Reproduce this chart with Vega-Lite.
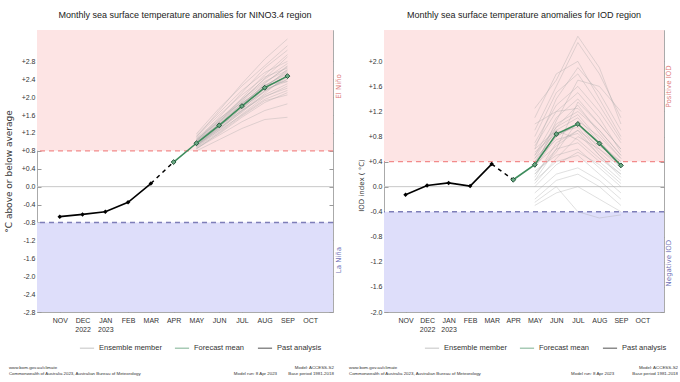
{
  "$schema": "https://vega.github.io/schema/vega-lite/v6.json",
  "background": "white",
  "autosize": {"type": "pad"},
  "padding": {"left": 3, "top": 10, "right": 0, "bottom": 0},
  "bounds": "flush",
  "align": "each",
  "columns": 2,
  "spacing": {"row": 51, "column": 51},
  "config": {
    "view": {"stroke": "#aaaaaa", "strokeWidth": 1},
    "font": "Liberation Sans",
    "axis": {"grid": false, "domain": false, "tickColor": "#999999", "tickSize": -4, "labelFont": "Liberation Sans", "labelFontSize": 7, "labelColor": "#333333", "titleFont": "DejaVu Sans", "titleFontWeight": "normal", "titleFontSize": 9, "titleColor": "#333333"},
    "title": {"font": "Liberation Sans", "fontSize": 9, "fontWeight": "normal", "color": "#222222", "offset": 10},
    "text": {"font": "Liberation Sans"}
  },
  "datasets": {
    "blank": [{}],
    "ensL": [
      {"id":1,"MAY":1.02,"JUN":1.55,"JUL":2.10,"AUG":2.65,"SEP":3.05},
      {"id":2,"MAY":0.92,"JUN":1.25,"JUL":1.60,"AUG":1.95,"SEP":2.15},
      {"id":3,"MAY":1.10,"JUN":1.70,"JUL":2.30,"AUG":2.85,"SEP":3.30},
      {"id":4,"MAY":0.85,"JUN":1.15,"JUL":1.45,"AUG":1.70,"SEP":1.85},
      {"id":5,"MAY":0.98,"JUN":1.40,"JUL":1.85,"AUG":2.25,"SEP":2.55},
      {"id":6,"MAY":1.05,"JUN":1.45,"JUL":1.95,"AUG":2.40,"SEP":2.75},
      {"id":7,"MAY":0.90,"JUN":1.30,"JUL":1.70,"AUG":2.05,"SEP":2.30},
      {"id":8,"MAY":0.95,"JUN":1.35,"JUL":1.75,"AUG":2.15,"SEP":2.40},
      {"id":9,"MAY":1.15,"JUN":1.65,"JUL":2.15,"AUG":2.55,"SEP":2.80},
      {"id":10,"MAY":0.80,"JUN":1.05,"JUL":1.30,"AUG":1.50,"SEP":1.55},
      {"id":11,"MAY":1.00,"JUN":1.50,"JUL":1.95,"AUG":2.35,"SEP":2.60},
      {"id":12,"MAY":0.93,"JUN":1.28,"JUL":1.72,"AUG":2.20,"SEP":2.62},
      {"id":13,"MAY":1.08,"JUN":1.52,"JUL":1.88,"AUG":2.18,"SEP":2.35},
      {"id":14,"MAY":0.88,"JUN":1.22,"JUL":1.62,"AUG":2.00,"SEP":2.25},
      {"id":15,"MAY":0.97,"JUN":1.42,"JUL":1.92,"AUG":2.42,"SEP":2.90},
      {"id":16,"MAY":1.03,"JUN":1.38,"JUL":1.78,"AUG":2.12,"SEP":2.45},
      {"id":17,"MAY":0.91,"JUN":1.33,"JUL":1.82,"AUG":2.30,"SEP":2.70},
      {"id":18,"MAY":1.12,"JUN":1.60,"JUL":2.05,"AUG":2.45,"SEP":2.65},
      {"id":19,"MAY":0.86,"JUN":1.18,"JUL":1.55,"AUG":1.88,"SEP":2.10},
      {"id":20,"MAY":0.99,"JUN":1.36,"JUL":1.70,"AUG":2.02,"SEP":2.20},
      {"id":21,"MAY":1.06,"JUN":1.48,"JUL":1.98,"AUG":2.50,"SEP":2.95},
      {"id":22,"MAY":0.94,"JUN":1.30,"JUL":1.66,"AUG":2.08,"SEP":2.50},
      {"id":23,"MAY":1.01,"JUN":1.44,"JUL":1.86,"AUG":2.26,"SEP":2.52},
      {"id":24,"MAY":0.89,"JUN":1.26,"JUL":1.68,"AUG":2.14,"SEP":2.40},
      {"id":25,"MAY":1.18,"JUN":1.75,"JUL":2.25,"AUG":2.70,"SEP":3.15},
      {"id":26,"MAY":0.96,"JUN":1.32,"JUL":1.76,"AUG":2.24,"SEP":2.58},
      {"id":27,"MAY":0.84,"JUN":1.20,"JUL":1.58,"AUG":1.92,"SEP":2.05},
      {"id":28,"MAY":1.04,"JUN":1.46,"JUL":1.90,"AUG":2.32,"SEP":2.68},
      {"id":29,"MAY":0.92,"JUN":1.34,"JUL":1.80,"AUG":2.28,"SEP":2.35},
      {"id":30,"MAY":1.00,"JUN":1.40,"JUL":1.84,"AUG":2.20,"SEP":2.48}
    ],
    "pastL": [
      {"month":"NOV","v":-0.67},{"month":"DEC","v":-0.62},{"month":"JAN","v":-0.56},{"month":"FEB","v":-0.35},{"month":"MAR","v":0.07}
    ],
    "linkL": [{"month":"MAR","v":0.07},{"month":"APR","v":0.55}],
    "fcL": [
      {"month":"APR","v":0.55},{"month":"MAY","v":0.97},{"month":"JUN","v":1.37},{"month":"JUL","v":1.80},{"month":"AUG","v":2.21},{"month":"SEP","v":2.47}
    ],
    "ensR": [
      {"id":1,"MAY":0.60,"JUN":1.40,"JUL":1.90,"AUG":1.50,"SEP":0.90},
      {"id":2,"MAY":0.10,"JUN":0.40,"JUL":0.50,"AUG":0.20,"SEP":-0.10},
      {"id":3,"MAY":0.90,"JUN":1.60,"JUL":2.30,"AUG":1.80,"SEP":1.10},
      {"id":4,"MAY":-0.20,"JUN":0.10,"JUL":0.20,"AUG":0.00,"SEP":-0.30},
      {"id":5,"MAY":0.40,"JUN":0.90,"JUL":1.10,"AUG":0.70,"SEP":0.40},
      {"id":6,"MAY":0.50,"JUN":1.10,"JUL":1.40,"AUG":1.00,"SEP":0.60},
      {"id":7,"MAY":0.20,"JUN":0.60,"JUL":0.70,"AUG":0.40,"SEP":0.10},
      {"id":8,"MAY":0.30,"JUN":0.80,"JUL":1.00,"AUG":0.60,"SEP":0.30},
      {"id":9,"MAY":0.70,"JUN":1.30,"JUL":1.60,"AUG":1.20,"SEP":0.70},
      {"id":10,"MAY":-0.10,"JUN":0.20,"JUL":0.30,"AUG":0.10,"SEP":-0.20},
      {"id":11,"MAY":0.45,"JUN":1.00,"JUL":1.20,"AUG":0.90,"SEP":0.50},
      {"id":12,"MAY":0.15,"JUN":0.70,"JUL":0.90,"AUG":0.50,"SEP":0.20},
      {"id":13,"MAY":1.10,"JUN":1.80,"JUL":2.00,"AUG":1.40,"SEP":0.80},
      {"id":14,"MAY":0.25,"JUN":0.50,"JUL":0.60,"AUG":0.30,"SEP":0.00},
      {"id":15,"MAY":0.35,"JUN":0.95,"JUL":1.30,"AUG":0.85,"SEP":0.45},
      {"id":16,"MAY":0.55,"JUN":0.85,"JUL":0.95,"AUG":0.55,"SEP":0.25},
      {"id":17,"MAY":0.05,"JUN":0.45,"JUL":0.80,"AUG":0.60,"SEP":0.35},
      {"id":18,"MAY":0.65,"JUN":1.20,"JUL":1.50,"AUG":1.10,"SEP":0.55},
      {"id":19,"MAY":-0.30,"JUN":-0.10,"JUL":0.00,"AUG":-0.20,"SEP":-0.40},
      {"id":20,"MAY":0.40,"JUN":0.75,"JUL":0.85,"AUG":0.50,"SEP":0.15},
      {"id":21,"MAY":0.80,"JUN":1.50,"JUL":1.80,"AUG":1.30,"SEP":0.75},
      {"id":22,"MAY":0.20,"JUN":0.55,"JUL":1.05,"AUG":0.80,"SEP":0.45},
      {"id":23,"MAY":0.50,"JUN":0.95,"JUL":1.15,"AUG":0.75,"SEP":0.30},
      {"id":24,"MAY":0.00,"JUN":0.35,"JUL":0.55,"AUG":0.35,"SEP":0.05},
      {"id":25,"MAY":0.30,"JUN":1.05,"JUL":1.70,"AUG":1.60,"SEP":1.20},
      {"id":26,"MAY":0.60,"JUN":0.90,"JUL":0.75,"AUG":0.45,"SEP":0.20},
      {"id":27,"MAY":0.35,"JUN":0.65,"JUL":0.90,"AUG":0.65,"SEP":0.40},
      {"id":28,"MAY":1.00,"JUN":1.20,"JUL":1.25,"AUG":0.90,"SEP":0.50},
      {"id":29,"MAY":0.10,"JUN":0.60,"JUL":1.35,"AUG":1.00,"SEP":0.60},
      {"id":30,"MAY":0.45,"JUN":0.80,"JUL":1.00,"AUG":0.70,"SEP":0.30},
      {"id":31,"MAY":1.25,"JUN":1.70,"JUL":2.40,"AUG":1.90,"SEP":1.00},
      {"id":32,"MAY":-0.25,"JUN":0.00,"JUL":-0.40,"AUG":-0.50,"SEP":-0.45}
    ],
    "pastR": [
      {"month":"NOV","v":-0.13},{"month":"DEC","v":0.02},{"month":"JAN","v":0.06},{"month":"FEB","v":0.01},{"month":"MAR","v":0.36}
    ],
    "linkR": [{"month":"MAR","v":0.36},{"month":"APR","v":0.11}],
    "fcR": [
      {"month":"APR","v":0.11},{"month":"MAY","v":0.35},{"month":"JUN","v":0.84},{"month":"JUL","v":1.00},{"month":"AUG","v":0.69},{"month":"SEP","v":0.34}
    ]
  },
  "resolve": {"scale": {"color": "independent", "x": "independent", "y": "independent"}},
  "concat": [
    {
      "width": 296, "height": 282,
      "title": "Monthly sea surface temperature anomalies for NINO3.4 region",
      "resolve": {"axis": {"x": "independent", "y": "independent"}},
      "layer": [
        {"data": {"name": "blank"}, "mark": {"type": "rect", "color": "#fde4e4"},
         "encoding": {"y": {"datum": 0.8, "type": "quantitative", "scale": {"domain": [-2.8, 3.5], "nice": false, "zero": false}, "axis": null}, "y2": {"datum": 3.5}}},
        {"data": {"name": "blank"}, "mark": {"type": "rect", "color": "#dedefa"},
         "encoding": {"y": {"datum": -2.8, "type": "quantitative", "axis": null}, "y2": {"datum": -0.8}}},
        {"data": {"name": "blank"}, "mark": {"type": "rule", "color": "#c8c8c8", "strokeWidth": 1},
         "encoding": {"y": {"datum": 0, "type": "quantitative", "axis": null}}},
        {"data": {"name": "ensL"},
         "transform": [{"fold": ["MAY", "JUN", "JUL", "AUG", "SEP"], "as": ["month", "v"]}],
         "mark": {"type": "line", "strokeWidth": 0.8, "opacity": 0.45},
         "encoding": {
           "x": {"field": "month", "type": "ordinal", "scale": {"type": "point", "domain": ["NOV","DEC","JAN","FEB","MAR","APR","MAY","JUN","JUL","AUG","SEP","OCT"], "padding": 1},
                 "axis": {"orient": "bottom", "title": null, "labelAngle": 0, "labelPadding": 8, "labelLineHeight": 9, "tickSize": -4,
                          "labelExpr": "datum.value == 'DEC' ? ['DEC','2022'] : (datum.value == 'JAN' ? ['JAN','2023'] : datum.value)"}},
           "y": {"field": "v", "type": "quantitative",
                 "axis": {"orient": "left", "title": "°C above or below average", "titleX": -24, "labelPadding": 6, "tickSize": -4,
                          "values": [-2.8,-2.4,-2.0,-1.6,-1.2,-0.8,-0.4,0,0.4,0.8,1.2,1.6,2.0,2.4,2.8],
                          "labelExpr": "datum.value > 0.001 ? '+' + format(datum.value, '.1f') : (abs(datum.value) < 0.001 ? '0.0' : '-' + format(abs(datum.value), '.1f'))"}},
           "detail": {"field": "id"},
           "order": {"value": null},
           "color": {"datum": "Ensemble member",
                     "scale": {"domain": ["Ensemble member", "Forecast mean", "Past analysis"], "range": ["#a8a8a8", "#3d8c5c", "#000000"]},
                     "legend": {"orient": "none", "legendX": 42, "legendY": 310, "direction": "horizontal", "title": null,
                                "symbolType": "stroke", "symbolSize": 200, "symbolStrokeWidth": 1.5,
                                "labelFontSize": 7.5, "labelColor": "#333333", "labelOffset": 4, "columnPadding": 9,
                                "encode": {"symbols": {"update": {
                                  "shape": {"signal": "datum.value === 'Ensemble member' ? 'stroke' : 'M-1,0L1,0M0,-0.45L0.32,0L0,0.45L-0.32,0Z'"},
                                  "opacity": {"value": 1},
                                  "strokeOpacity": {"value": 1},
                                  "stroke": {"signal": "datum.value === 'Forecast mean' ? '#3d8c5c' : (datum.value === 'Past analysis' ? '#000000' : '#a8a8a8')"},
                                  "fill": {"signal": "datum.value === 'Past analysis' ? '#000000' : (datum.value === 'Forecast mean' ? '#7dbb95' : 'transparent')"}}}}}}
         }},
        {"data": {"name": "blank"}, "mark": {"type": "rule", "color": "#f28b8b", "strokeWidth": 1.3, "strokeDash": [5, 4]},
         "encoding": {"y": {"datum": 0.8, "type": "quantitative", "axis": null}}},
        {"data": {"name": "blank"}, "mark": {"type": "rule", "color": "#7e7eb8", "strokeWidth": 1.3, "strokeDash": [5, 4]},
         "encoding": {"y": {"datum": -0.8, "type": "quantitative", "axis": null}}},
        {"data": {"name": "linkL"}, "mark": {"type": "line", "color": "#000000", "strokeWidth": 1.5, "strokeDash": [4, 4]},
         "encoding": {"x": {"field": "month", "type": "ordinal", "axis": null}, "y": {"field": "v", "type": "quantitative", "axis": null}, "order": {"value": null}}},
        {"data": {"name": "pastL"}, "mark": {"type": "line", "strokeWidth": 1.6},
         "encoding": {"x": {"field": "month", "type": "ordinal", "axis": null}, "y": {"field": "v", "type": "quantitative", "axis": null}, "order": {"value": null}, "color": {"datum": "Past analysis"}}},
        {"data": {"name": "pastL"}, "mark": {"type": "point", "shape": "diamond", "filled": true, "color": "#000000", "size": 20, "opacity": 1},
         "encoding": {"x": {"field": "month", "type": "ordinal", "axis": null}, "y": {"field": "v", "type": "quantitative", "axis": null}}},
        {"data": {"name": "fcL"}, "mark": {"type": "line", "strokeWidth": 1.6},
         "encoding": {"x": {"field": "month", "type": "ordinal", "axis": null}, "y": {"field": "v", "type": "quantitative", "axis": null}, "order": {"value": null}, "color": {"datum": "Forecast mean"}}},
        {"data": {"name": "fcL"}, "mark": {"type": "point", "shape": "diamond", "filled": true, "fill": "#6aa983", "stroke": "#1d4d33", "strokeWidth": 0.9, "size": 24, "opacity": 1},
         "encoding": {"x": {"field": "month", "type": "ordinal", "axis": null}, "y": {"field": "v", "type": "quantitative", "axis": null}}},
        {"data": {"name": "fcL"}, "mark": {"type": "point", "opacity": 0},
         "encoding": {"x": {"field": "month", "type": "ordinal", "axis": {"orient": "top", "labels": false, "title": null, "tickSize": -4}},
                      "y": {"field": "v", "type": "quantitative", "axis": {"orient": "right", "labels": false, "title": null, "tickSize": -4, "values": [-2.8,-2.4,-2.0,-1.6,-1.2,-0.8,-0.4,0,0.4,0.8,1.2,1.6,2.0,2.4,2.8]}}}},
        {"data": {"name": "blank"}, "mark": {"type": "text", "text": "El Niño", "angle": 270, "font": "DejaVu Sans", "fontSize": 7, "color": "#e07a7a", "align": "center", "baseline": "middle", "dy": 6},
         "encoding": {"x": {"value": "width"}, "y": {"datum": 2.24, "type": "quantitative", "axis": null}}},
        {"data": {"name": "blank"}, "mark": {"type": "text", "text": "La Niña", "angle": 270, "font": "DejaVu Sans", "fontSize": 7, "color": "#7070b8", "align": "center", "baseline": "middle", "dy": 6},
         "encoding": {"x": {"value": "width"}, "y": {"datum": -1.64, "type": "quantitative", "axis": null}}}
      ]
    },
    {
      "width": 280, "height": 282,
      "title": "Monthly sea surface temperature anomalies for IOD region",
      "resolve": {"axis": {"x": "independent", "y": "independent"}},
      "layer": [
        {"data": {"name": "blank"}, "mark": {"type": "rect", "color": "#fde4e4"},
         "encoding": {"y": {"datum": 0.4, "type": "quantitative", "scale": {"domain": [-2.0, 2.5], "nice": false, "zero": false}, "axis": null}, "y2": {"datum": 2.5}}},
        {"data": {"name": "blank"}, "mark": {"type": "rect", "color": "#dedefa"},
         "encoding": {"y": {"datum": -2.0, "type": "quantitative", "axis": null}, "y2": {"datum": -0.4}}},
        {"data": {"name": "blank"}, "mark": {"type": "rule", "color": "#c8c8c8", "strokeWidth": 1},
         "encoding": {"y": {"datum": 0, "type": "quantitative", "axis": null}}},
        {"data": {"name": "ensR"},
         "transform": [{"fold": ["MAY", "JUN", "JUL", "AUG", "SEP"], "as": ["month", "v"]}],
         "mark": {"type": "line", "strokeWidth": 0.8, "opacity": 0.45},
         "encoding": {
           "x": {"field": "month", "type": "ordinal", "scale": {"type": "point", "domain": ["NOV","DEC","JAN","FEB","MAR","APR","MAY","JUN","JUL","AUG","SEP","OCT"], "padding": 1},
                 "axis": {"orient": "bottom", "title": null, "labelAngle": 0, "labelPadding": 8, "labelLineHeight": 9, "tickSize": -4,
                          "labelExpr": "datum.value == 'DEC' ? ['DEC','2022'] : (datum.value == 'JAN' ? ['JAN','2023'] : datum.value)"}},
           "y": {"field": "v", "type": "quantitative",
                 "axis": {"orient": "left", "title": "IOD index ( °C)", "titleFontSize": 7, "titleX": -20, "titleY": 155, "labelPadding": 6, "tickSize": -4,
                          "values": [-2.0,-1.6,-1.2,-0.8,-0.4,0,0.4,0.8,1.2,1.6,2.0],
                          "labelExpr": "datum.value > 0.001 ? '+' + format(datum.value, '.1f') : (abs(datum.value) < 0.001 ? '0.0' : '-' + format(abs(datum.value), '.1f'))"}},
           "detail": {"field": "id"},
           "order": {"value": null},
           "color": {"datum": "Ensemble member",
                     "scale": {"domain": ["Ensemble member", "Forecast mean", "Past analysis"], "range": ["#a8a8a8", "#3d8c5c", "#000000"]},
                     "legend": {"orient": "none", "legendX": 40, "legendY": 310, "direction": "horizontal", "title": null,
                                "symbolType": "stroke", "symbolSize": 200, "symbolStrokeWidth": 1.5,
                                "labelFontSize": 7.5, "labelColor": "#333333", "labelOffset": 4, "columnPadding": 9,
                                "encode": {"symbols": {"update": {
                                  "shape": {"signal": "datum.value === 'Ensemble member' ? 'stroke' : 'M-1,0L1,0M0,-0.45L0.32,0L0,0.45L-0.32,0Z'"},
                                  "opacity": {"value": 1},
                                  "strokeOpacity": {"value": 1},
                                  "stroke": {"signal": "datum.value === 'Forecast mean' ? '#3d8c5c' : (datum.value === 'Past analysis' ? '#000000' : '#a8a8a8')"},
                                  "fill": {"signal": "datum.value === 'Past analysis' ? '#000000' : (datum.value === 'Forecast mean' ? '#7dbb95' : 'transparent')"}}}}}}
         }},
        {"data": {"name": "blank"}, "mark": {"type": "rule", "color": "#f28b8b", "strokeWidth": 1.3, "strokeDash": [5, 4]},
         "encoding": {"y": {"datum": 0.4, "type": "quantitative", "axis": null}}},
        {"data": {"name": "blank"}, "mark": {"type": "rule", "color": "#7e7eb8", "strokeWidth": 1.3, "strokeDash": [5, 4]},
         "encoding": {"y": {"datum": -0.4, "type": "quantitative", "axis": null}}},
        {"data": {"name": "linkR"}, "mark": {"type": "line", "color": "#000000", "strokeWidth": 1.5, "strokeDash": [4, 4]},
         "encoding": {"x": {"field": "month", "type": "ordinal", "axis": null}, "y": {"field": "v", "type": "quantitative", "axis": null}, "order": {"value": null}}},
        {"data": {"name": "pastR"}, "mark": {"type": "line", "strokeWidth": 1.6},
         "encoding": {"x": {"field": "month", "type": "ordinal", "axis": null}, "y": {"field": "v", "type": "quantitative", "axis": null}, "order": {"value": null}, "color": {"datum": "Past analysis"}}},
        {"data": {"name": "pastR"}, "mark": {"type": "point", "shape": "diamond", "filled": true, "color": "#000000", "size": 20, "opacity": 1},
         "encoding": {"x": {"field": "month", "type": "ordinal", "axis": null}, "y": {"field": "v", "type": "quantitative", "axis": null}}},
        {"data": {"name": "fcR"}, "mark": {"type": "line", "strokeWidth": 1.6},
         "encoding": {"x": {"field": "month", "type": "ordinal", "axis": null}, "y": {"field": "v", "type": "quantitative", "axis": null}, "order": {"value": null}, "color": {"datum": "Forecast mean"}}},
        {"data": {"name": "fcR"}, "mark": {"type": "point", "shape": "diamond", "filled": true, "fill": "#6aa983", "stroke": "#1d4d33", "strokeWidth": 0.9, "size": 24, "opacity": 1},
         "encoding": {"x": {"field": "month", "type": "ordinal", "axis": null}, "y": {"field": "v", "type": "quantitative", "axis": null}}},
        {"data": {"name": "fcR"}, "mark": {"type": "point", "opacity": 0},
         "encoding": {"x": {"field": "month", "type": "ordinal", "axis": {"orient": "top", "labels": false, "title": null, "tickSize": -4}},
                      "y": {"field": "v", "type": "quantitative", "axis": {"orient": "right", "labels": false, "title": null, "tickSize": -4, "values": [-2.0,-1.6,-1.2,-0.8,-0.4,0,0.4,0.8,1.2,1.6,2.0]}}}},
        {"data": {"name": "blank"}, "mark": {"type": "text", "text": "Positive IOD", "angle": 270, "font": "DejaVu Sans", "fontSize": 7, "color": "#e07a7a", "align": "center", "baseline": "middle", "dy": 5},
         "encoding": {"x": {"value": "width"}, "y": {"datum": 1.6, "type": "quantitative", "axis": null}}},
        {"data": {"name": "blank"}, "mark": {"type": "text", "text": "Negative IOD", "angle": 270, "font": "DejaVu Sans", "fontSize": 7, "color": "#7070b8", "align": "center", "baseline": "middle", "dy": 5},
         "encoding": {"x": {"value": "width"}, "y": {"datum": -1.22, "type": "quantitative", "axis": null}}}
      ]
    },
    {
      "width": 296, "height": 12,
      "view": {"stroke": null},
      "data": {"name": "blank"},
      "layer": [
        {"mark": {"type": "text", "text": "www.bom.gov.au/climate", "align": "left", "baseline": "middle", "fontSize": 4.4, "color": "#333333"},
         "encoding": {"x": {"datum": -0.095, "type": "quantitative", "scale": {"domain": [0, 1]}, "axis": null}, "y": {"datum": 0.58, "type": "quantitative", "scale": {"domain": [0, 1]}, "axis": null}}},
        {"mark": {"type": "text", "text": "Commonwealth of Australia 2023, Australian Bureau of Meteorology", "align": "left", "baseline": "middle", "fontSize": 4.4, "color": "#333333"},
         "encoding": {"x": {"datum": -0.095, "type": "quantitative"}, "y": {"datum": 0.08, "type": "quantitative"}}},
        {"mark": {"type": "text", "text": "Model run: 8 Apr 2023", "align": "left", "baseline": "middle", "fontSize": 4.4, "color": "#333333"},
         "encoding": {"x": {"datum": 0.665, "type": "quantitative"}, "y": {"datum": 0.08, "type": "quantitative"}}},
        {"mark": {"type": "text", "text": "Model: ACCESS-S2", "align": "right", "baseline": "middle", "fontSize": 4.4, "color": "#333333"},
         "encoding": {"x": {"datum": 1.003, "type": "quantitative"}, "y": {"datum": 0.58, "type": "quantitative"}}},
        {"mark": {"type": "text", "text": "Base period 1981-2018", "align": "right", "baseline": "middle", "fontSize": 4.4, "color": "#333333"},
         "encoding": {"x": {"datum": 1.003, "type": "quantitative"}, "y": {"datum": 0.08, "type": "quantitative"}}}
      ]
    },
    {
      "width": 280, "height": 12,
      "view": {"stroke": null},
      "data": {"name": "blank"},
      "layer": [
        {"mark": {"type": "text", "text": "www.bom.gov.au/climate", "align": "left", "baseline": "middle", "fontSize": 4.4, "color": "#333333"},
         "encoding": {"x": {"datum": -0.125, "type": "quantitative", "scale": {"domain": [0, 1]}, "axis": null}, "y": {"datum": 0.58, "type": "quantitative", "scale": {"domain": [0, 1]}, "axis": null}}},
        {"mark": {"type": "text", "text": "Commonwealth of Australia 2023, Australian Bureau of Meteorology", "align": "left", "baseline": "middle", "fontSize": 4.4, "color": "#333333"},
         "encoding": {"x": {"datum": -0.125, "type": "quantitative"}, "y": {"datum": 0.08, "type": "quantitative"}}},
        {"mark": {"type": "text", "text": "Model run: 8 Apr 2023", "align": "left", "baseline": "middle", "fontSize": 4.4, "color": "#333333"},
         "encoding": {"x": {"datum": 0.668, "type": "quantitative"}, "y": {"datum": 0.08, "type": "quantitative"}}},
        {"mark": {"type": "text", "text": "Model: ACCESS-S2", "align": "right", "baseline": "middle", "fontSize": 4.4, "color": "#333333"},
         "encoding": {"x": {"datum": 1.05, "type": "quantitative"}, "y": {"datum": 0.58, "type": "quantitative"}}},
        {"mark": {"type": "text", "text": "Base period 1981-2018", "align": "right", "baseline": "middle", "fontSize": 4.4, "color": "#333333"},
         "encoding": {"x": {"datum": 1.05, "type": "quantitative"}, "y": {"datum": 0.08, "type": "quantitative"}}}
      ]
    }
  ]
}
